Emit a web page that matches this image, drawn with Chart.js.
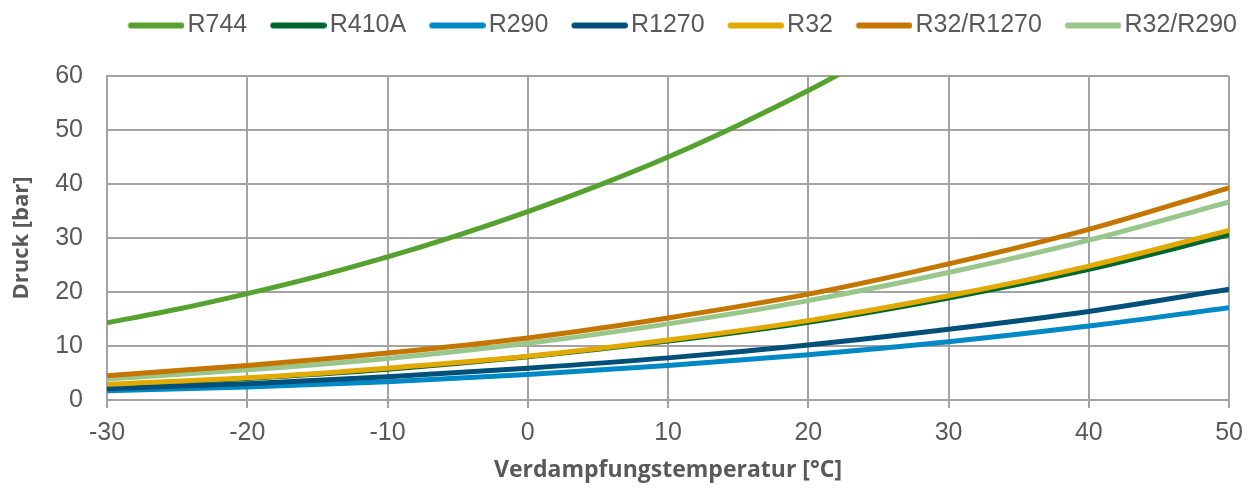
<!DOCTYPE html>
<html><head><meta charset="utf-8">
<script src="https://cdn.jsdelivr.net/npm/chart.js@4"></script>
<style>html,body{margin:0;padding:0;background:#fff;}#wrap{width:1253px;height:488px;}</style>
</head><body><div id="wrap"><canvas id="c" width="1253" height="488"></canvas></div>
<script>
const temps = [-30, -20, -10, 0, 10, 20, 30, 40, 50];
const tempsR744 = [-30, -25, -20, -15, -10, -5, 0, 5, 10, 15, 20, 25];
const r744 = [14.3, 16.8, 19.7, 22.9, 26.5, 30.5, 34.9, 39.7, 45.0, 50.9, 57.3, 64.3];
const r410a = [2.7, 4.0, 5.7, 8.0, 10.9, 14.4, 18.9, 24.2, 30.6];
const r290 = [1.7, 2.4, 3.4, 4.7, 6.4, 8.4, 10.8, 13.7, 17.1];
const r1270 = [2.1, 3.0, 4.3, 5.9, 7.8, 10.2, 13.1, 16.4, 20.5];
const r32 = [2.9, 4.1, 5.9, 8.1, 11.1, 14.7, 19.3, 24.8, 31.4];
const r32r1270 = [4.5, 6.4, 8.7, 11.5, 15.2, 19.6, 25.2, 31.6, 39.3];
const r32r290 = [3.9, 5.6, 7.7, 10.5, 14.1, 18.4, 23.6, 29.6, 36.7];
const xTicks = [-30, -20, -10, 0, 10, 20, 30, 40, 50];
const yTicks = [0, 10, 20, 30, 40, 50, 60];

const LEG_FONT = 25, LEG_BOX = 47, LEG_EXT = 9.5;
function legendMarker(color) {
  const cv = document.createElement('canvas');
  cv.width = LEG_BOX + 2 * LEG_EXT; cv.height = 8;
  const g = cv.getContext('2d');
  g.strokeStyle = color; g.lineWidth = 6; g.lineCap = 'round';
  g.beginPath(); g.moveTo(LEG_EXT + 3, 4); g.lineTo(cv.width - 3, 4); g.stroke();
  return cv;
}
function pts(xs, ys) { return xs.map((x, i) => ({x: x, y: ys[i]})); }
function ds(label, xs, ys, color, order) {
  return {label, data: pts(xs, ys), borderColor: color, backgroundColor: color,
    borderWidth: 5, pointRadius: 0, cubicInterpolationMode: 'monotone', fill: false, order};
}
const grid = '#a3a3a3';
const txt = '#595959';
const shiftLegend = {
  id: 'shiftLegend',
  afterLayout(chart) {
    const l = chart.legend;
    if (l) { l.left += 22; l.right += 22; l.top += 2; l.bottom += 2; }
  }
};
const chart = new Chart(document.getElementById('c'), {
  type: 'line',
  plugins: [shiftLegend],
  data: { datasets: [
    ds('R744', tempsR744, r744, '#56a22f', 0),
    ds('R410A', temps, r410a, '#00662f', 6),
    ds('R290', temps, r290, '#0089c4', 5),
    ds('R1270', temps, r1270, '#00507a', 4),
    ds('R32', temps, r32, '#e2a900', 1),
    ds('R32/R1270', temps, r32r1270, '#c47600', 2),
    ds('R32/R290', temps, r32r290, '#98c68b', 3)
  ]},
  options: {
    responsive: false, animation: false,
    layout: { padding: { left: 0, right: 15, top: -12, bottom: 0 } },
    plugins: {
      tooltip: { enabled: false },
      legend: {
        position: 'top', align: 'end',
        labels: {
          color: txt, font: { family: 'Liberation Sans, Arial', size: LEG_FONT },
          usePointStyle: true, pointStyleWidth: LEG_BOX, boxWidth: LEG_BOX, boxHeight: 6, padding: 23,
          generateLabels: (chart) => chart.data.datasets.map((d, i) => ({
            text: d.label, fillStyle: d.borderColor, strokeStyle: d.borderColor, lineWidth: 0,
            fontColor: txt, datasetIndex: i, hidden: false, pointStyle: legendMarker(d.borderColor)
          }))
        }
      }
    },
    scales: {
      x: {
        type: 'linear', min: -30, max: 50,
        afterBuildTicks: (s) => { s.ticks = xTicks.map(v => ({value: v})); },
        afterFit: (s) => { s.height = 88; },
        grid: { color: grid, lineWidth: 2, tickLength: 8, drawTicks: true },
        border: { color: grid, width: 2 },
        ticks: { color: txt, font: { family: 'Liberation Sans, Arial', size: 25 }, padding: 10 },
        title: { display: true, text: 'Verdampfungstemperatur [°C]', color: txt,
          font: { family: 'Open Sans', size: 23, weight: 'bold' }, padding: { top: 0 } }
      },
      y: {
        min: 0, max: 60,
        afterBuildTicks: (s) => { s.ticks = yTicks.map(v => ({value: v})); },
        afterFit: (s) => { s.width = 107; },
        grid: { color: grid, lineWidth: 2, drawTicks: false },
        border: { color: grid, width: 2 },
        ticks: { color: txt, font: { family: 'Liberation Sans, Arial', size: 25 }, padding: 24 },
        title: { display: true, text: 'Druck [bar]', color: txt,
          font: { family: 'Open Sans', size: 22, weight: 'bold' }, padding: { top: 9, bottom: 0 } }
      }
    }
  }
});
const lg = chart.legend;
lg.fit = function () { Object.getPrototypeOf(this).fit.call(this); this.height = 88; };
chart.update();
</script></body></html>
